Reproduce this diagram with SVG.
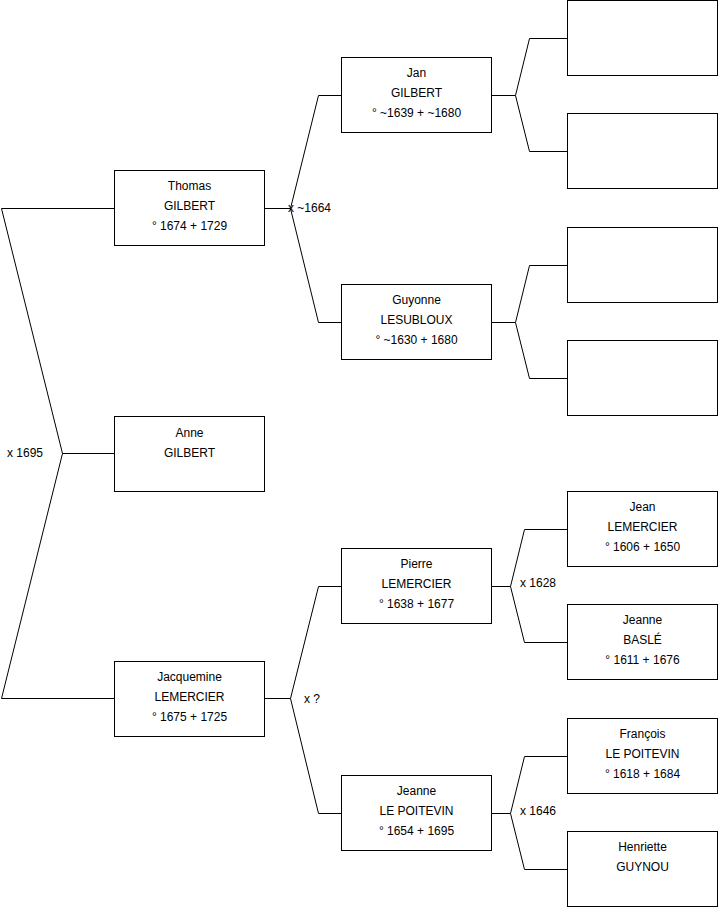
<svg xmlns="http://www.w3.org/2000/svg" width="719" height="908" viewBox="0 0 719 908">
<style>
.box{fill:#fff;stroke:#000;stroke-width:1}
.t{font-family:"Liberation Sans",Arial,sans-serif;font-size:12px;fill:#000}
.c{text-anchor:middle}
.ln{fill:none;stroke:#000;stroke-width:1}
</style>
<rect width="719" height="908" fill="#fff"/>
<g id="connectors">
<polyline class="ln" points="114,208.5 1.5,208.5 62.5,453.5 1.5,698.5 114,698.5"/>
<line class="ln" x1="62.5" y1="453.5" x2="114" y2="453.5"/>
<polyline class="ln" points="341,95.5 318.5,95.5 290.5,208.5 318.5,322.5 341,322.5"/>
<line class="ln" x1="265" y1="208.5" x2="290.5" y2="208.5"/>
<polyline class="ln" points="567,38.5 529.5,38.5 515.5,95.5 529.5,151.5 567,151.5"/>
<line class="ln" x1="491" y1="95.5" x2="515.5" y2="95.5"/>
<polyline class="ln" points="567,265.5 529.5,265.5 515.5,322.5 529.5,378.5 567,378.5"/>
<line class="ln" x1="491" y1="322.5" x2="515.5" y2="322.5"/>
<polyline class="ln" points="341,586.5 318.5,586.5 290.5,698.5 318.5,813.5 341,813.5"/>
<line class="ln" x1="265" y1="698.5" x2="290.5" y2="698.5"/>
<polyline class="ln" points="567,529.5 524.5,529.5 510.5,586.5 524.5,642.5 567,642.5"/>
<line class="ln" x1="491" y1="586.5" x2="510.5" y2="586.5"/>
<polyline class="ln" points="567,756.5 524.5,756.5 510.5,813.5 524.5,869.5 567,869.5"/>
<line class="ln" x1="491" y1="813.5" x2="510.5" y2="813.5"/>
<text class="t" x="7" y="457">x 1695</text>
<text class="t" x="288" y="212">x ~1664</text>
<text class="t" x="304" y="703">x ?</text>
<text class="t" x="520" y="587">x 1628</text>
<text class="t" x="520" y="815">x 1646</text>
</g>
<g id="thomas"><rect class="box" x="114.5" y="170.5" width="150" height="75"/><text class="t c" x="189.5" y="190">Thomas</text><text class="t c" x="189.5" y="210">GILBERT</text><text class="t c" x="189.5" y="230">° 1674 + 1729</text></g>
<g id="anne"><rect class="box" x="114.5" y="416.5" width="150" height="75"/><text class="t c" x="189.5" y="437">Anne</text><text class="t c" x="189.5" y="457">GILBERT</text></g>
<g id="jacquemine"><rect class="box" x="114.5" y="661.5" width="150" height="75"/><text class="t c" x="189.5" y="681">Jacquemine</text><text class="t c" x="189.5" y="701">LEMERCIER</text><text class="t c" x="189.5" y="721">° 1675 + 1725</text></g>
<g id="jan"><rect class="box" x="341.5" y="57.5" width="150" height="75"/><text class="t c" x="416.5" y="77">Jan</text><text class="t c" x="416.5" y="97">GILBERT</text><text class="t c" x="416.5" y="117">° ~1639 + ~1680</text></g>
<g id="guyonne"><rect class="box" x="341.5" y="284.5" width="150" height="75"/><text class="t c" x="416.5" y="304">Guyonne</text><text class="t c" x="416.5" y="324">LESUBLOUX</text><text class="t c" x="416.5" y="344">° ~1630 + 1680</text></g>
<g id="pierre"><rect class="box" x="341.5" y="548.5" width="150" height="75"/><text class="t c" x="416.5" y="568">Pierre</text><text class="t c" x="416.5" y="588">LEMERCIER</text><text class="t c" x="416.5" y="608">° 1638 + 1677</text></g>
<g id="jeanne-lp"><rect class="box" x="341.5" y="775.5" width="150" height="75"/><text class="t c" x="416.5" y="795">Jeanne</text><text class="t c" x="416.5" y="815">LE POITEVIN</text><text class="t c" x="416.5" y="835">° 1654 + 1695</text></g>
<g id="empty1"><rect class="box" x="567.5" y="0.5" width="150" height="75"/></g>
<g id="empty2"><rect class="box" x="567.5" y="113.5" width="150" height="75"/></g>
<g id="empty3"><rect class="box" x="567.5" y="227.5" width="150" height="75"/></g>
<g id="empty4"><rect class="box" x="567.5" y="340.5" width="150" height="75"/></g>
<g id="jean"><rect class="box" x="567.5" y="491.5" width="150" height="75"/><text class="t c" x="642.5" y="511">Jean</text><text class="t c" x="642.5" y="531">LEMERCIER</text><text class="t c" x="642.5" y="551">° 1606 + 1650</text></g>
<g id="jeanne-basle"><rect class="box" x="567.5" y="604.5" width="150" height="75"/><text class="t c" x="642.5" y="624">Jeanne</text><text class="t c" x="642.5" y="644">BASLÉ</text><text class="t c" x="642.5" y="664">° 1611 + 1676</text></g>
<g id="francois"><rect class="box" x="567.5" y="718.5" width="150" height="75"/><text class="t c" x="642.5" y="738">François</text><text class="t c" x="642.5" y="758">LE POITEVIN</text><text class="t c" x="642.5" y="778">° 1618 + 1684</text></g>
<g id="henriette"><rect class="box" x="567.5" y="831.5" width="150" height="75"/><text class="t c" x="642.5" y="851">Henriette</text><text class="t c" x="642.5" y="871">GUYNOU</text></g>
</svg>
